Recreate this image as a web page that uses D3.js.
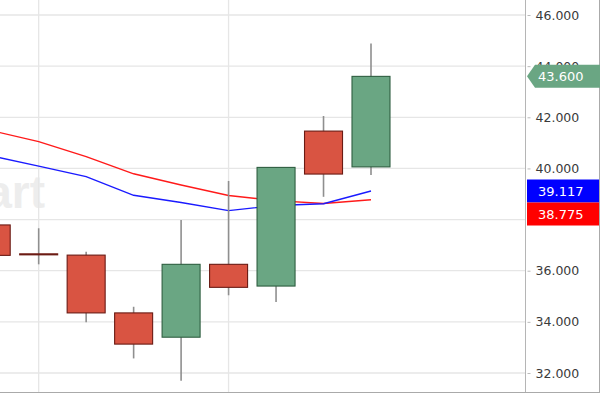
<!DOCTYPE html>
<html><head><meta charset="utf-8">
<script src="https://cdn.jsdelivr.net/npm/d3@7"></script>
<style>html,body{margin:0;padding:0;background:#fff;}svg{display:block;}</style>
</head><body>
<svg id="c" width="602" height="394"></svg>
<script>
const idx = [0,1,2,3,4,5,6,7,8];
const opens  = [37.79, 36.66, 36.61, 34.35, 33.40, 36.25, 35.40, 41.46, 40.06];
const highs  = [37.95, 37.66, 36.74, 34.59, 37.98, 39.51, 40.06, 42.05, 44.89];
const lows   = [36.40, 36.25, 33.98, 32.57, 31.70, 35.04, 34.78, 38.89, 39.74];
const closes = [36.60, 36.64, 34.35, 33.13, 36.25, 35.35, 40.04, 39.78, 43.60];
const maRed  = [41.48, 41.05, 40.46, 39.79, 39.35, 38.94, 38.74, 38.63, 38.775];
const maBlue = [40.49, 40.09, 39.68, 38.95, 38.67, 38.35, 38.55, 38.62, 39.117];
const yTicks = [32, 34, 36, 38, 40, 42, 44, 46];
const vGridIdx = [1, 5];

const svg = d3.select('#c');
const plotRight = 525.5;
const x = d3.scaleLinear().domain([0, 8]).range([-8.8, 371]);
const y = d3.scaleLinear().domain([32, 46]).range([373, 15]);
const candleW = 38;
const fmt = d3.format('.3f');

// watermark
svg.append('text').attr('x', 45).attr('y', 208).attr('text-anchor', 'end')
  .attr('font-family', 'Liberation Sans, Arial, sans-serif').attr('font-weight', 'bold')
  .attr('font-size', 46).attr('fill', '#ededed').text('Chart');

// grid
const g = svg.append('g');
g.selectAll('line.h').data(yTicks).enter().append('line')
  .attr('x1', 0).attr('x2', plotRight).attr('y1', d => y(d)).attr('y2', d => y(d))
  .attr('stroke', '#e6e6e6').attr('stroke-width', 1.3);
g.selectAll('line.v').data(vGridIdx).enter().append('line')
  .attr('x1', d => x(d)).attr('x2', d => x(d)).attr('y1', 0).attr('y2', 392)
  .attr('stroke', '#e6e6e6').attr('stroke-width', 1.3);

// MA lines
const line = arr => d3.line().x((d, i) => x(idx[i])).y(d => y(d))(arr);
svg.append('path').attr('d', line(maRed)).attr('fill', 'none').attr('stroke', '#ff1a1a').attr('stroke-width', 1.4);
svg.append('path').attr('d', line(maBlue)).attr('fill', 'none').attr('stroke', '#1a1aff').attr('stroke-width', 1.4);

// candles
const cg = svg.append('g').selectAll('g').data(idx).enter().append('g');
cg.append('line').attr('x1', i => x(i)).attr('x2', i => x(i))
  .attr('y1', i => y(highs[i])).attr('y2', i => y(lows[i]))
  .attr('stroke', '#8f8f8f').attr('stroke-width', 1.6);
cg.append('rect')
  .attr('x', i => x(i) - candleW / 2).attr('width', candleW)
  .attr('y', i => y(Math.max(opens[i], closes[i])))
  .attr('height', i => Math.max(1, Math.abs(y(opens[i]) - y(closes[i]))))
  .attr('fill', i => closes[i] >= opens[i] ? '#6aa683' : '#d95442')
  .attr('stroke', i => closes[i] >= opens[i] ? '#2e5e40' : '#6a1b14')
  .attr('stroke-width', 1.1);

// axis
svg.append('line').attr('x1', plotRight).attr('x2', plotRight).attr('y1', 0).attr('y2', 393)
  .attr('stroke', '#b5b5b5').attr('stroke-width', 1);
const ax = svg.append('g').attr('transform', `translate(${plotRight},0)`)
  .call(d3.axisRight(y).tickValues(yTicks).tickFormat(fmt).tickSize(5).tickPadding(5));
ax.select('.domain').remove();
ax.selectAll('.tick line').attr('stroke', '#bbb').attr('x1', 2);
ax.selectAll('.tick text').attr('fill', '#3a3a3a').attr('font-size', 13)
  .attr('font-family', 'DejaVu Sans, sans-serif').attr('font-size', 12.5);

// borders
svg.append('line').attr('x1', 0).attr('x2', 600).attr('y1', 392.5).attr('y2', 392.5).attr('stroke', '#aaa');
svg.append('line').attr('x1', 599.5).attr('x2', 599.5).attr('y1', 0).attr('y2', 393).attr('stroke', '#aaa');

// value tags
const lastClose = closes[closes.length - 1];
const tagH = 23;
const ty = y(lastClose);
svg.append('path')
  .attr('d', `M527,${ty} L535,${ty - tagH/2} L600,${ty - tagH/2} L600,${ty + tagH/2} L535,${ty + tagH/2} Z`)
  .attr('fill', '#6aa683');
svg.append('text').attr('x', 538).attr('y', ty).attr('dy', '0.36em')
  .attr('font-family', 'DejaVu Sans, sans-serif').attr('font-size', 13).attr('fill', '#fff').text(fmt(lastClose));

const bv = maBlue[maBlue.length - 1], rv = maRed[maRed.length - 1];
const bTop = y(bv) - tagH / 2;
const rTop = bTop + tagH;
svg.append('rect').attr('x', 527).attr('y', bTop).attr('width', 72).attr('height', tagH).attr('fill', '#0000ff');
svg.append('text').attr('x', 538).attr('y', bTop + tagH / 2).attr('dy', '0.36em')
  .attr('font-family', 'DejaVu Sans, sans-serif').attr('font-size', 13).attr('fill', '#fff').text(fmt(bv));
svg.append('rect').attr('x', 527).attr('y', rTop).attr('width', 72).attr('height', tagH).attr('fill', '#ff0000');
svg.append('text').attr('x', 538).attr('y', rTop + tagH / 2).attr('dy', '0.36em')
  .attr('font-family', 'DejaVu Sans, sans-serif').attr('font-size', 13).attr('fill', '#fff').text(fmt(rv));
</script>
</body></html>
